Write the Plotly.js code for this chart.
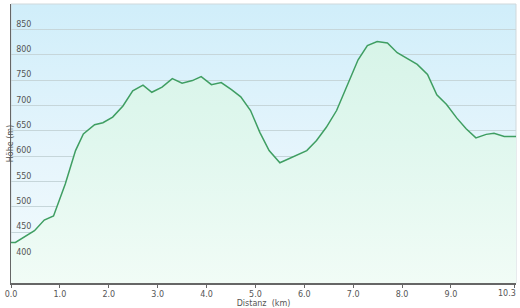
<!DOCTYPE html>
<html>
<head>
<meta charset="utf-8">
<script src="https://cdn.plot.ly/plotly-3.0.1.min.js"></script>
<style>html,body{margin:0;padding:0;background:#fff;}#chart{width:520px;height:308px;}</style>
</head>
<body>
<div id="chart"></div>
<script>
const distanceKm = [0, 0.09, 0.48, 0.68, 0.87, 1.11, 1.32, 1.48, 1.71, 1.88, 2.08, 2.29, 2.49, 2.70, 2.88, 3.09, 3.30, 3.50, 3.71, 3.89, 4.10, 4.30, 4.51, 4.70, 4.90, 5.09, 5.28, 5.50, 6.05, 6.25, 6.45, 6.66, 7.10, 7.29, 7.49, 7.70, 7.90, 8.09, 8.31, 8.52, 8.71, 8.91, 9.12, 9.31, 9.51, 9.72, 9.88, 10.09, 10.33];
const elevationM = [430, 430, 453, 474, 482, 545, 611, 644, 662, 666, 677, 699, 729, 740, 726, 736, 753, 744, 749, 757, 741, 745, 731, 717, 690, 647, 611, 587, 611, 631, 657, 690, 790, 818, 826, 823, 804, 794, 781, 761, 721, 702, 675, 654, 636, 643, 645, 639, 639];
const xTickVals = [0, 1, 2, 3, 4, 5, 6, 7, 8, 9, 10.3];
const xTickText = ['0.0', '1.0', '2.0', '3.0', '4.0', '5.0', '6.0', '7.0', '8.0', '9.0', '10.3'];
const yTickVals = [400, 450, 500, 550, 600, 650, 700, 750, 800, 850];

const lastIdx = xTickVals.length - 1;
const shownTickText = xTickText.map((t, i) => i === lastIdx ? '' : t);

const bgSvg = '<svg xmlns="http://www.w3.org/2000/svg" width="100" height="100" preserveAspectRatio="none">' +
  '<defs><linearGradient id="g" x1="0" y1="0" x2="0" y2="1">' +
  '<stop offset="0" stop-color="#d0eefa"/><stop offset="0.55" stop-color="#e6f5fc"/><stop offset="1" stop-color="#f3fbfd"/>' +
  '</linearGradient></defs><rect width="100" height="100" fill="url(#g)"/></svg>';
const bgUrl = 'data:image/svg+xml;utf8,' + encodeURIComponent(bgSvg);

const trace = {
  x: distanceKm,
  y: elevationM,
  type: 'scatter',
  mode: 'lines',
  line: {color: '#3f9e62', width: 1.5},
  fill: 'tozeroy',
  fillgradient: {type: 'vertical', start: 350, stop: 900,
    colorscale: [[0, '#f1fcf6'], [0.5, '#e0f7ee'], [1, '#d4f3e6']]},
  hoverinfo: 'skip'
};

const font = {family: 'DejaVu Sans, Verdana, sans-serif', size: 8, color: '#555'};

const layout = {
  width: 520, height: 308,
  margin: {l: 11, r: 4, t: 4, b: 25},
  paper_bgcolor: '#ffffff',
  plot_bgcolor: 'rgba(0,0,0,0)',
  showlegend: false,
  font: font,
  images: [{source: bgUrl, xref: 'paper', yref: 'paper', x: 0, y: 1, sizex: 1, sizey: 1,
    sizing: 'stretch', layer: 'below', xanchor: 'left', yanchor: 'top'}],
  shapes: [{type: 'rect', xref: 'paper', yref: 'paper', x0: 0, x1: 1, y0: 0, y1: 1,
    line: {color: '#cfd8db', width: 1}, fillcolor: 'rgba(0,0,0,0)', layer: 'below'}],
  annotations: [{
    x: xTickVals[lastIdx], xref: 'x', y: 0, yref: 'paper',
    text: xTickText[lastIdx], showarrow: false,
    xanchor: 'right', yanchor: 'top', xshift: 3, yshift: -4,
    font: font
  }],
  xaxis: {
    range: [0, 10.33],
    tickmode: 'array', tickvals: xTickVals, ticktext: shownTickText,
    showgrid: false, zeroline: false,
    showline: true, linecolor: '#666', linewidth: 1.5,
    ticks: 'outside', ticklen: 3, tickcolor: '#666', tickwidth: 1,
    ticklabeloverflow: 'allow',
    tickfont: font,
    title: {text: 'Distanz\u00a0 (km)', font: font, standoff: 1}
  },
  yaxis: {
    range: [350, 900],
    tickmode: 'array', tickvals: yTickVals,
    showgrid: true, gridcolor: '#c6d6da', gridwidth: 1,
    zeroline: false,
    showline: true, linecolor: '#666', linewidth: 1.5,
    ticks: '', ticklabelposition: 'inside top', ticklabelstandoff: 3,
    ticklabeloverflow: 'allow',
    tickfont: font,
    title: {text: 'Höhe (m)', font: font, standoff: 1}
  }
};

Plotly.newPlot('chart', [trace], layout, {staticPlot: true, displayModeBar: false});
</script>
</body>
</html>
